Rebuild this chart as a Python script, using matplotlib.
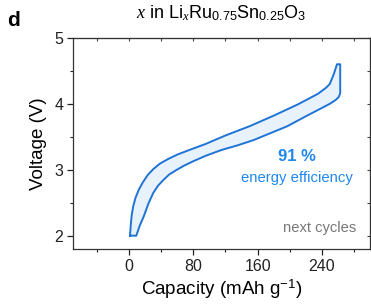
import matplotlib.pyplot as plt
from matplotlib.ticker import MultipleLocator

plt.rcParams['font.family'] = ['Liberation Sans', 'DejaVu Sans']
plt.rcParams['mathtext.fontset'] = 'custom'
plt.rcParams['mathtext.rm'] = 'Liberation Sans'
plt.rcParams['mathtext.it'] = 'Liberation Serif:italic'

# charge branch (upper), capacity in mAh/g and voltage in V
cap_charge = [1, 1.8, 3, 5, 8, 12, 17, 23, 30, 38, 48, 60, 75, 95, 120, 150, 180,
              210, 235, 245, 250, 255, 259, 263]
v_charge = [2.0, 2.15, 2.30, 2.45, 2.58, 2.70, 2.81, 2.92, 3.01, 3.09, 3.16, 3.23, 3.30,
            3.39, 3.52, 3.66, 3.82, 3.99, 4.15, 4.24, 4.30, 4.45, 4.60, 4.60]
# discharge branch (lower)
cap_dis = [263, 261, 257.5, 250, 239, 220, 197, 175, 155, 135, 115, 95, 80, 68, 58,
           50, 43, 36, 30, 24, 18, 13, 8.8, 1]
v_dis = [4.16, 4.10, 4.06, 4.00, 3.93, 3.81, 3.66, 3.55, 3.45, 3.37, 3.30, 3.21, 3.13,
         3.06, 2.99, 2.93, 2.85, 2.76, 2.65, 2.49, 2.29, 2.15, 2.0, 2.0]

line_c = '#1f74d6'
fill_c = '#e8f2fd'

fig = plt.figure(figsize=(3.71, 3.08), dpi=100)
ax = fig.add_axes([0.197, 0.192, 0.8, 0.685])

ax.fill(cap_charge + cap_dis, v_charge + v_dis, color=fill_c, zorder=1)
ax.plot(cap_charge + cap_dis + [cap_charge[0]], v_charge + v_dis + [v_charge[0]],
        color=line_c, lw=1.4, zorder=2, solid_joinstyle='round')

ax.set_xlim(-70, 300)
ax.set_ylim(1.8, 5)
ax.xaxis.set_major_locator(MultipleLocator(80))
ax.xaxis.set_minor_locator(MultipleLocator(40))
ax.yaxis.set_major_locator(MultipleLocator(1))
ax.yaxis.set_minor_locator(MultipleLocator(0.5))
ax.tick_params(which='major', direction='out', length=4, width=0.9, labelsize=11.5,
               colors='#222222', pad=3)
ax.tick_params(which='minor', direction='out', length=2.5, width=0.8, colors='#222222')

top = ax.secondary_xaxis('top')
top.xaxis.set_major_locator(MultipleLocator(40))
top.tick_params(direction='in', length=2.5, width=0.8, labeltop=False, colors='#444444')
right = ax.secondary_yaxis('right')
right.yaxis.set_major_locator(MultipleLocator(0.5))
right.tick_params(direction='in', length=2.5, width=0.8, labelright=False, colors='#444444')

for s in ['left', 'bottom', 'top', 'right']:
    ax.spines[s].set_color('#333333')
    ax.spines[s].set_linewidth(0.9)
top.spines['top'].set_color('#666666')
right.spines['right'].set_color('#666666')

ax.set_xlabel('Capacity (mAh g$^{-1}$)', fontsize=13.5, labelpad=3)
ax.set_ylabel('Voltage (V)', fontsize=13.5, labelpad=5)

fig.text(0.597, 0.958,
         r'$\mathit{x}$ in Li$_\mathit{x}$Ru$_\mathrm{0.75}$Sn$_\mathrm{0.25}$O$_\mathrm{3}$',
         ha='center', va='center', fontsize=13)
fig.text(0.02, 0.935, 'd', fontsize=15, fontweight='bold', va='center')

ax.text(209, 3.2, '91 %', color='#1e88f0', fontsize=12, fontweight='bold',
        ha='center', va='center')
ax.text(209, 2.88, 'energy efficiency', color='#1e88f0', fontsize=10.7,
        ha='center', va='center')
ax.text(283, 2.12, 'next cycles', color='#777777', fontsize=10.6,
        ha='right', va='center')

fig.savefig('out.png', dpi=100)
